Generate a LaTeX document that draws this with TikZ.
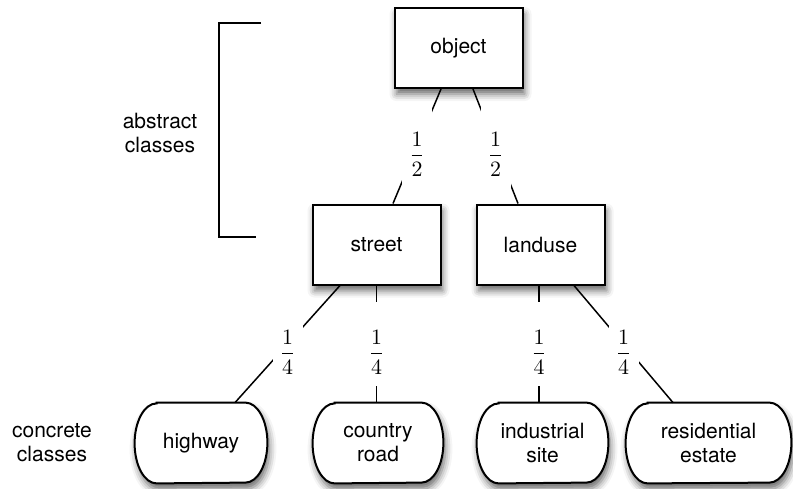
\documentclass[tikz,border=0pt]{standalone}
\usepackage{fontspec}
\setmainfont{TeX Gyre Heros}
\usetikzlibrary{shadows.blur,backgrounds}

% outline of a pill-shaped class: flat top and bottom, elliptic ends
\newcommand{\pilloutline}[1]{%
  \draw[pill] ([xshift=11pt]#1.north west) -- ([xshift=-11pt]#1.north east)
    arc[start angle=90, end angle=-90, x radius=11pt, y radius=20pt]
    -- ([xshift=11pt]#1.south west)
    arc[start angle=270, end angle=90, x radius=11pt, y radius=20pt] -- cycle;}

% a link weight, set as a display fraction and dropped a little in its box
\newcommand{\wt}[2]{\raisebox{-4pt}[\height][\depth]{$\displaystyle\frac{#1}{#2}$}}

\begin{document}
\begin{tikzpicture}[x=0.5pt,y=-0.5pt,
  softshadow/.style={blur shadow={shadow xshift=1pt, shadow yshift=-3pt,
      shadow blur radius=3.5pt, shadow opacity=60}},
  txt/.style={font=\fontsize{10.5}{12}\selectfont, align=center},
  classbox/.style={txt, draw, line width=1pt, fill=white, minimum width=64pt,
      minimum height=40pt, softshadow},
  pillnode/.style={txt, inner sep=0pt, minimum height=40pt},
  pill/.style={draw, line width=1pt, fill=white, softshadow},
  conn/.style={line width=0.75pt},
  weight/.style={fill=white, inner sep=0pt, minimum width=15pt,
      minimum height=42pt, font=\fontsize{10.5}{12}\selectfont},
  bracket/.style={line width=0.75pt}
]
\useasboundingbox (0,0) rectangle (793,488);

% abstract classes
\node[classbox] (object)  at (458.5,48)    {object};
\node[classbox] (street)  at (376.5,244.5) {street};
\node[classbox] (landuse) at (540.5,244.5) {landuse};

% concrete classes
\node[pillnode, minimum width=66pt]   (highway)     at (201,443)   {highway};
\node[pillnode, minimum width=65pt]   (country)     at (378,443)   {country\\road};
\node[pillnode, minimum width=65.5pt] (industrial)  at (542.5,443) {industrial\\site};
\node[pillnode, minimum width=82.5pt] (residential) at (708.5,443) {residential\\estate};
\begin{scope}[on background layer]
  \pilloutline{highway}
  \pilloutline{country}
  \pilloutline{industrial}
  \pilloutline{residential}
\end{scope}

% side annotations
\draw[bracket] (261,23) -- (219,23) -- (219,237) -- (256,237);
\node[txt] (abstractlbl) at (160,133) {abstract\\classes};
\node[txt] (concretelbl) at (52,443)  {concrete\\classes};

% weighted generalisation links
\draw[conn] ([xshift=-8.75pt]object.south) -- node[weight]{\wt12} ([xshift=8.25pt]street.north);
\draw[conn] ([xshift=7.25pt]object.south) -- node[weight]{\wt12} ([xshift=-11.25pt]landuse.north);
\draw[conn] ([xshift=-18.25pt]street.south) -- node[weight]{\wt14} ([xshift=17pt]highway.north);
\draw[conn] (street.south) -- node[weight]{\wt14} (street.south |- country.north);
\draw[conn] ([xshift=-0.75pt]landuse.south) -- node[weight]{\wt14} ([xshift=-0.75pt]landuse.south |- industrial.north);
\draw[conn] ([xshift=16.75pt]landuse.south) -- node[weight]{\wt14} ([xshift=-17.75pt]residential.north);
\end{tikzpicture}
\end{document}
